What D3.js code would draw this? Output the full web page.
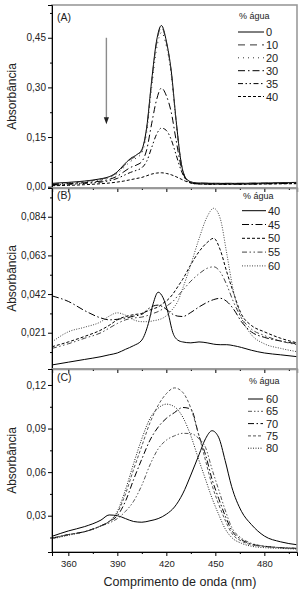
<!DOCTYPE html>
<html>
<head>
<meta charset="utf-8">
<script src="https://cdn.jsdelivr.net/npm/d3@7"></script>
<style>
  body { margin: 0; background: #fff; }
  svg { display: block; font-family: "Liberation Sans", Arial, sans-serif; }
</style>
</head>
<body>
<svg id="chart"></svg>
<script>
// ---- data ----
let wlA = [350, 360, 370, 380, 385, 390, 394, 398, 402, 405, 408, 411, 414, 417, 420, 423, 426, 429, 432, 436, 440, 450, 465, 480, 500]
let absA0  = [0.010, 0.013, 0.017, 0.024, 0.030, 0.045, 0.066, 0.085, 0.097, 0.112, 0.180, 0.320, 0.440, 0.487, 0.440, 0.350, 0.200, 0.075, 0.025, 0.013, 0.011, 0.010, 0.010, 0.011, 0.013]
let absA10 = [0.009, 0.012, 0.016, 0.023, 0.029, 0.043, 0.063, 0.082, 0.094, 0.109, 0.176, 0.314, 0.434, 0.482, 0.436, 0.347, 0.198, 0.074, 0.025, 0.013, 0.011, 0.010, 0.010, 0.011, 0.012]
let absA20 = [0.008, 0.011, 0.015, 0.021, 0.027, 0.040, 0.058, 0.076, 0.088, 0.102, 0.165, 0.298, 0.415, 0.466, 0.425, 0.338, 0.194, 0.073, 0.025, 0.012, 0.010, 0.009, 0.009, 0.010, 0.011]
let absA30 = [0.006, 0.009, 0.012, 0.017, 0.022, 0.032, 0.045, 0.058, 0.066, 0.076, 0.112, 0.190, 0.262, 0.298, 0.275, 0.225, 0.140, 0.062, 0.023, 0.011, 0.009, 0.008, 0.008, 0.009, 0.010]
let absA35 = [0.005, 0.007, 0.010, 0.014, 0.018, 0.025, 0.034, 0.043, 0.050, 0.057, 0.077, 0.118, 0.158, 0.177, 0.170, 0.142, 0.096, 0.050, 0.021, 0.010, 0.008, 0.008, 0.008, 0.009, 0.010]
let absA40 = [0.003, 0.004, 0.006, 0.009, 0.011, 0.014, 0.017, 0.021, 0.025, 0.028, 0.033, 0.038, 0.041, 0.042, 0.040, 0.036, 0.030, 0.023, 0.016, 0.010, 0.008, 0.007, 0.007, 0.008, 0.009]

let wlB = [350, 360, 370, 380, 385, 390, 395, 400, 405, 409, 412, 415, 418, 421, 424, 427, 430, 435, 440, 445, 449, 453, 457, 461, 466, 472, 480, 490, 500]
let absB40 = [0.0035, 0.005, 0.0065, 0.008, 0.009, 0.010, 0.012, 0.014, 0.017, 0.026, 0.037, 0.0430, 0.040, 0.032, 0.021, 0.017, 0.016, 0.0155, 0.016, 0.0155, 0.0148, 0.0145, 0.0145, 0.014, 0.013, 0.0115, 0.010, 0.009, 0.008]
let absB45 = [0.0410, 0.038, 0.033, 0.029, 0.028, 0.0283, 0.029, 0.030, 0.031, 0.034, 0.0355, 0.036, 0.035, 0.033, 0.031, 0.030, 0.0298, 0.032, 0.035, 0.0375, 0.039, 0.0397, 0.038, 0.034, 0.027, 0.0215, 0.0185, 0.0165, 0.015]
let absB50 = [0.0134, 0.016, 0.019, 0.0225, 0.025, 0.028, 0.0298, 0.0308, 0.0315, 0.033, 0.034, 0.035, 0.037, 0.039, 0.042, 0.046, 0.050, 0.058, 0.065, 0.070, 0.0723, 0.066, 0.054, 0.043, 0.031, 0.025, 0.0215, 0.018, 0.0155]
let absB55 = [0.0125, 0.015, 0.018, 0.021, 0.0235, 0.026, 0.028, 0.029, 0.0295, 0.0305, 0.0315, 0.0325, 0.034, 0.036, 0.038, 0.041, 0.044, 0.049, 0.053, 0.056, 0.0568, 0.054, 0.047, 0.038, 0.029, 0.023, 0.0195, 0.0165, 0.0145]
let absB60 = [0.016, 0.0215, 0.024, 0.027, 0.030, 0.0318, 0.0305, 0.028, 0.027, 0.027, 0.0275, 0.028, 0.029, 0.031, 0.034, 0.038, 0.045, 0.058, 0.072, 0.084, 0.0886, 0.083, 0.064, 0.044, 0.029, 0.020, 0.015, 0.0125, 0.0107]

let wlC = [350, 360, 370, 380, 385, 390, 395, 400, 405, 410, 415, 420, 425, 430, 435, 440, 444, 448, 452, 456, 460, 466, 472, 480, 490, 500]
let absC60 = [0.0158, 0.0195, 0.0225, 0.027, 0.0305, 0.030, 0.028, 0.026, 0.0255, 0.0265, 0.028, 0.031, 0.036, 0.045, 0.058, 0.072, 0.083, 0.0885, 0.084, 0.068, 0.050, 0.033, 0.024, 0.016, 0.012, 0.010]
let absC65 = [0.0145, 0.017, 0.019, 0.023, 0.025, 0.028, 0.033, 0.040, 0.051, 0.065, 0.076, 0.082, 0.085, 0.0867, 0.0865, 0.083, 0.077, 0.062, 0.048, 0.034, 0.022, 0.0145, 0.011, 0.009, 0.008, 0.0075]
let absC70 = [0.0145, 0.017, 0.019, 0.023, 0.026, 0.030, 0.040, 0.055, 0.069, 0.082, 0.091, 0.097, 0.101, 0.1045, 0.1035, 0.085, 0.072, 0.055, 0.042, 0.030, 0.020, 0.0135, 0.0105, 0.009, 0.008, 0.0075]
let absC75 = [0.0145, 0.017, 0.019, 0.023, 0.026, 0.032, 0.045, 0.062, 0.078, 0.094, 0.106, 0.114, 0.118, 0.115, 0.104, 0.085, 0.068, 0.051, 0.038, 0.027, 0.018, 0.0125, 0.010, 0.0088, 0.008, 0.0075]
let absC80 = [0.014, 0.0165, 0.019, 0.023, 0.026, 0.033, 0.048, 0.066, 0.083, 0.097, 0.104, 0.1068, 0.105, 0.098, 0.085, 0.068, 0.055, 0.042, 0.031, 0.021, 0.015, 0.011, 0.009, 0.008, 0.0075, 0.007]

let xTicks = [360, 390, 420, 450, 480]
let xMinor = [375, 405, 435, 465, 495]
let yTicksA = [0, 0.15, 0.30, 0.45]
let yMinorA = [0.075, 0.225, 0.375, 0.525]
let yTicksB = [0.021, 0.042, 0.063, 0.084]
let yMinorB = [0.0105, 0.0315, 0.0525, 0.0735, 0.0945]
let yTicksC = [0.03, 0.06, 0.09, 0.12]
let yMinorC = [0.015, 0.045, 0.075, 0.105]

// ---- layout ----
let width = 302
let height = 592
let left = 52
let right = 297

let svg = d3.select('#chart').attr('width', width).attr('height', height)

let loc = d3.formatLocale({decimal: ',', thousands: '.', grouping: [3], currency: ['', '']})

let xScale = d3.scaleLinear().domain([350, 500]).range([left, right])

let panels = [
  {
    name: '(A)', top: 5, bottom: 188, domain: [-0.004, 0.549],
    ticks: yTicksA, minor: yMinorA, fmt: loc.format('.2f'), wl: wlA, nameY: 21,
    series: [
      {label: '0', values: absA0, dash: null, color: '#000'},
      {label: '10', values: absA10, dash: '7,5', color: '#333'},
      {label: '20', values: absA20, dash: '1,4', color: '#333'},
      {label: '30', values: absA30, dash: '7,3,1.5,3', color: '#000'},
      {label: '35', values: absA35, dash: '5,2.5,1.5,2.5,1.5,2.5', color: '#000'},
      {label: '40', values: absA40, dash: '3,2', color: '#000'}
    ],
    legend: {titleY: 19, rowY: 32, step: 12.9, x0: 238, x1: 264, tx: 266}
  },
  {
    name: '(B)', top: 188, bottom: 369, domain: [0.0013, 0.0996],
    ticks: yTicksB, minor: yMinorB, fmt: loc.format('.3f'), wl: wlB, nameY: 199,
    series: [
      {label: '40', values: absB40, dash: null, color: '#000'},
      {label: '45', values: absB45, dash: '7,2.5,1.5,2.5', color: '#000'},
      {label: '50', values: absB50, dash: '3,2', color: '#000'},
      {label: '55', values: absB55, dash: '5,2.5,1.5,2.5,1.5,2.5', color: '#444'},
      {label: '60', values: absB60, dash: '1,1.5', color: '#444'}
    ],
    legend: {titleY: 199, rowY: 210.7, step: 13.8, x0: 242, x1: 266, tx: 268}
  },
  {
    name: '(C)', top: 369, bottom: 552, domain: [0.005, 0.131],
    ticks: yTicksC, minor: yMinorC, fmt: loc.format('.2f'), wl: wlC, nameY: 381,
    series: [
      {label: '60', values: absC60, dash: null, color: '#000'},
      {label: '65', values: absC65, dash: '4,2,1.5,2,1.5,2', color: '#555'},
      {label: '70', values: absC70, dash: '6,2.5,1.5,2.5', color: '#000'},
      {label: '75', values: absC75, dash: '3,2', color: '#555'},
      {label: '80', values: absC80, dash: '1,1.5', color: '#222'}
    ],
    legend: {titleY: 384, rowY: 399, step: 12.3, x0: 248, x1: 263, tx: 266}
  }
]

let styleAxis = (g) => {
  g.selectAll('.tick line').attr('stroke', '#000')
  g.selectAll('.tick text').attr('fill', '#222').attr('font-family', '"Liberation Sans", Arial, sans-serif')
}

let drawPanel = (p, i) => {
  let yScale = d3.scaleLinear().domain(p.domain).range([p.bottom, p.top])
  let g = svg.append('g').attr('class', 'panel')

  // curves
  let line = d3.line()
    .x((d) => xScale(d[0]))
    .y((d) => yScale(d[1]))
    .curve(d3.curveMonotoneX)

  g.selectAll('path.curve')
    .data(p.series)
    .enter()
    .append('path')
    .attr('class', 'curve')
    .attr('d', (s) => line(p.wl.map((w, k) => [w, s.values[k]])))
    .attr('fill', 'none')
    .attr('stroke', (s) => s.color)
    .attr('stroke-width', 1)
    .attr('stroke-dasharray', (s) => s.dash)

  // frame: top/right grey
  g.append('rect')
    .attr('x', left).attr('y', p.top)
    .attr('width', right - left).attr('height', p.bottom - p.top)
    .attr('fill', 'none').attr('stroke', '#9a9a9a').attr('stroke-width', 1.6)

  // y axis
  let yAxis = d3.axisLeft(yScale).tickValues(p.ticks).tickSize(4).tickPadding(2).tickFormat(p.fmt)
  let ya = g.append('g').attr('transform', 'translate(' + left + ',0)').call(yAxis)
  ya.select('.domain').attr('stroke', '#000')
  ya.selectAll('.tick text').attr('font-size', 10)
  styleAxis(ya)
  let ym = g.append('g').attr('transform', 'translate(' + left + ',0)')
    .call(d3.axisLeft(yScale).tickValues(p.minor).tickSize(2).tickFormat(''))
  ym.select('.domain').remove()
  styleAxis(ym)

  // x axis (labels only on last panel)
  let last = i === panels.length - 1
  let xAxis = d3.axisBottom(xScale).tickValues(xTicks).tickSize(4).tickPadding(4)
    .tickFormat(last ? d3.format('d') : '')
  let xa = g.append('g').attr('transform', 'translate(0,' + p.bottom + ')').call(xAxis)
  xa.select('.domain').attr('stroke', last ? '#000' : '#8a8a8a').attr('stroke-width', last ? 1 : 1.6)
  xa.selectAll('.tick text').attr('font-size', 9.5)
  styleAxis(xa)
  let xm = g.append('g').attr('transform', 'translate(0,' + p.bottom + ')')
    .call(d3.axisBottom(xScale).tickValues(xMinor).tickSize(2).tickFormat(''))
  xm.select('.domain').remove()
  styleAxis(xm)

  // panel label
  g.append('text').attr('x', 57).attr('y', p.nameY)
    .attr('font-size', 10.5).attr('fill', '#222').text(p.name)

  // y title
  g.append('text')
    .attr('transform', 'translate(16,' + ((p.top + p.bottom) / 2) + ') rotate(-90)')
    .attr('text-anchor', 'middle')
    .attr('font-size', 12).attr('fill', '#222')
    .text('Absorbância')

  // legend
  let L = p.legend
  g.append('text').attr('x', L.x0 + 1).attr('y', L.titleY)
    .attr('font-size', 9).attr('fill', '#222').text('% água')
  let rows = g.selectAll('g.leg')
    .data(p.series)
    .enter()
    .append('g')
    .attr('class', 'leg')
    .attr('transform', (s, k) => 'translate(0,' + (L.rowY + k * L.step) + ')')
  rows.append('line')
    .attr('x1', L.x0).attr('x2', L.x1).attr('y1', 0).attr('y2', 0)
    .attr('stroke', (s) => s.color).attr('stroke-width', 1)
    .attr('stroke-dasharray', (s) => s.dash)
  rows.append('text')
    .attr('x', L.tx).attr('y', 4)
    .attr('font-size', 11).attr('fill', '#222')
    .text((s) => s.label)

  return yScale
}

let scales = panels.map(drawPanel)

// arrow in panel A (water content increasing)
let yA = scales[0]
let ax = xScale(383.3)
svg.append('line')
  .attr('x1', ax).attr('x2', ax)
  .attr('y1', yA(0.45)).attr('y2', yA(0.205))
  .attr('stroke', '#8c8c8c').attr('stroke-width', 1.4)
svg.append('path')
  .attr('d', 'M' + (ax - 2.6) + ',' + yA(0.21) + 'L' + (ax + 2.6) + ',' + yA(0.21) + 'L' + ax + ',' + yA(0.189) + 'Z')
  .attr('fill', '#222')

// x title
svg.append('text')
  .attr('x', 180).attr('y', 586)
  .attr('text-anchor', 'middle')
  .attr('font-size', 12.5).attr('fill', '#222')
  .text('Comprimento de onda (nm)')
</script>
</body>
</html>
